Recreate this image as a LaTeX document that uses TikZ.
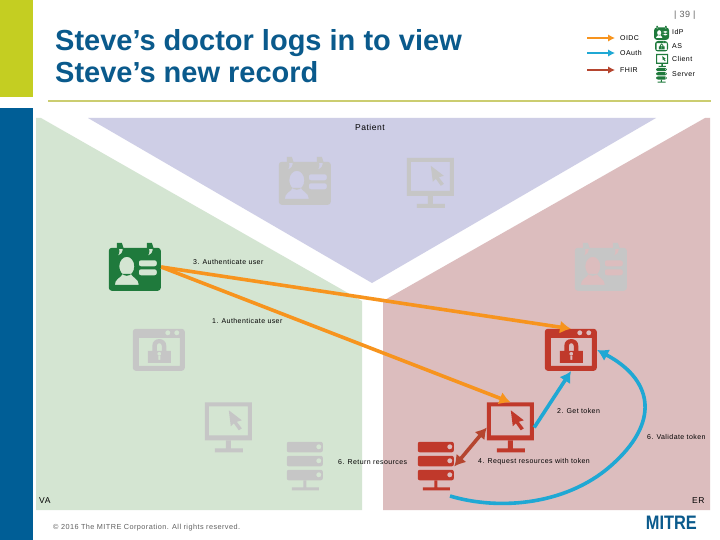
\documentclass[tikz,border=0pt]{standalone}
\usepackage{fontspec}
\setmainfont{Liberation Sans}
\newfontfamily\lblfont[LetterSpace=6]{Liberation Sans}
\usetikzlibrary{arrows.meta}
\definecolor{limebar}{HTML}{C4CE22}
\definecolor{bluebar}{HTML}{005E96}
\definecolor{rulecol}{HTML}{CBCD70}
\definecolor{titlecol}{HTML}{0A5A8C}
\definecolor{pgreen}{HTML}{D4E5D2}
\definecolor{ppurple}{HTML}{CECEE6}
\definecolor{ppink}{HTML}{DCBDBE}
\definecolor{icgreen}{HTML}{1F7A3C}
\definecolor{icred}{HTML}{C0392B}
\definecolor{icgray}{HTML}{C6C6C6}
\definecolor{orangeflow}{HTML}{F7941E}
\definecolor{blueflow}{HTML}{1FA8D4}
\definecolor{redflow}{HTML}{B5452F}
\definecolor{grayt}{HTML}{606060}
\tikzset{
  box/.style 2 args={inner sep=0pt,minimum width=#1pt,minimum height=#2pt},
  lbl/.style={anchor=west,inner sep=0pt,font=\lblfont\fontsize{7}{8}\selectfont,text=black},
  lgd/.style={anchor=west,inner sep=5pt,font=\lblfont\fontsize{7}{8}\selectfont,text=black},
  flow/.style={line width=3.6pt,-{Latex[length=11pt,width=13pt]}},
  lflow/.style={line width=2.4pt,-{Latex[length=7pt,width=7.5pt]}},
  badge/.pic={
    \fill[pic actions] (8,0) -- (13,0) -- (15,6) -- (8,6) -- cycle (38,0) -- (43,0) -- (45,6) -- (38,6) -- cycle;
    \fill[pic actions,even odd rule] [rounded corners=3pt] (0,5) rectangle (52,48) [sharp corners]
      (14,5) .. controls (14,10) and (12,12) .. (9,13) .. controls (11,10) and (11,7) .. (10,5) -- cycle
      (44,5) .. controls (44,10) and (42,12) .. (39,13) .. controls (41,10) and (41,7) .. (40,5) -- cycle
      (18,23.5) ellipse [x radius=7.5,y radius=9.5]
      (6,42) .. controls (6,36) and (12,35) .. (14,31) -- (22,31) .. controls (24,35) and (30,36) .. (30,42) -- cycle
      [rounded corners=2pt] (30,17.5) rectangle (48,23.5) (30,26.5) rectangle (48,32.5);
  },
  monitor/.pic={
    \fill[pic actions,even odd rule] (0,0) rectangle (47,38) (4,4) rectangle (43,33)
      (24,8) -- (37,18) -- (32,19.5) -- (37,26) -- (34,28) -- (29,21) -- (26,24) -- cycle;
    \fill[pic actions] (21,38) rectangle (26,46) (10,46) rectangle (38,50);
  },
  lockbox/.pic={
    \fill[pic actions,even odd rule] [rounded corners=3pt] (0,0) rectangle (52,42) [sharp corners]
      (6,9) rectangle (47,37)
      (35,4) circle [radius=2.6] (44,4) circle [radius=2.6]
      (15,22) rectangle (38,34)
      (19.5,22) -- (19.5,17) .. controls (19.5,8) and (33.5,8) .. (33.5,17) -- (33.5,22) -- (29,22) -- (29,17) .. controls (29,13.5) and (24,13.5) .. (24,17) -- (24,22) -- cycle
      (26.5,25) circle [radius=2] (25.5,27) rectangle (27.5,31);
  },
  serverstack/.pic={
    \fill[pic actions,even odd rule] [rounded corners=2pt] (0,0) rectangle (36,10.5) (0,14) rectangle (36,24.5) (0,28) rectangle (36,38.5) [sharp corners]
      (32,5) circle [radius=2.6] (32,19) circle [radius=2.6] (32,33) circle [radius=2.6];
    \fill[pic actions] (16.5,38.5) rectangle (19.5,47) (5,45.5) rectangle (32,48.5);
  },
}
\begin{document}
\begin{tikzpicture}[x=1pt,y=-1pt]
\useasboundingbox (0,0) rectangle (720,540);
\fill[white] (0,0) rectangle (720,540);
% side bars and rule
\fill[limebar] (0,0) rectangle (33,97);
\fill[bluebar] (0,108) rectangle (33,540);
\fill[rulecol] (48,100.5) rectangle (711,102.5);
% panels
\fill[pgreen] (36,118) -- (41,118) -- (362,301) -- (362,510) -- (36,510) -- cycle;
\fill[ppurple] (88,118) -- (656,118) -- (372,283) -- cycle;
\fill[ppink] (383,301) -- (705,118) -- (710,118) -- (710,510) -- (383,510) -- cycle;
% title
\node[anchor=north west,inner sep=0pt,align=left,text=titlecol,font=\bfseries\fontsize{29}{32}\selectfont] (title) at (55,29) {Steve’s doctor logs in to view\\Steve’s new record};
\node[anchor=west,inner sep=0pt,text=grayt,font=\lblfont\fontsize{9}{10}\selectfont] (pageno) at (674,15) {| 39 |};
% icon boxes
\node[box={52}{48}] (pbadge) at (305,181) {};
\node[box={47}{50}] (pclient) at (430.5,183) {};
\node[box={52}{48}] (dr) at (135,267) {};
\node[box={52}{48}] (ebadge) at (601,267) {};
\node[box={52}{42}] (vlock) at (159,350) {};
\node[box={52}{42}] (as) at (571,350) {};
\node[box={47}{50}] (vclient) at (228.5,427.5) {};
\node[box={47}{50}] (client) at (510.5,427.5) {};
\node[box={36}{49}] (vserver) at (305,466.5) {};
\node[box={36}{49}] (server) at (436,466.5) {};
% icons
\pic[fill=icgray] at (pbadge.north west) {badge};
\pic[fill=icgray] at (pclient.north west) {monitor};
\pic[fill=icgreen] at (dr.north west) {badge};
\pic[fill=icgray] at (ebadge.north west) {badge};
\pic[fill=icgray] at (vlock.north west) {lockbox};
\pic[fill=icred] at (as.north west) {lockbox};
\pic[fill=icgray] at (vclient.north west) {monitor};
\pic[fill=icred] at (client.north west) {monitor};
\pic[fill=icgray] at (vserver.north west) {serverstack};
\pic[fill=icred] at (server.north west) {serverstack};
% legend icons
\pic[fill=icgreen,scale=.29] at (654,26) {badge};
\pic[fill=icgreen,scale=.25] at (655,41) {lockbox};
\pic[fill=icgreen,scale=.26] at (656,54) {monitor};
\pic[fill=icgreen,scale=.3] at (656,68) {serverstack};
% labels
\node[anchor=west,inner sep=0pt,font=\lblfont\fontsize{8.5}{10}\selectfont] (patient) at (355,127) {Patient};
\node[anchor=west,inner sep=0pt,font=\lblfont\fontsize{8.5}{10}\selectfont] (va) at (39,501) {VA};
\node[anchor=west,inner sep=0pt,font=\lblfont\fontsize{8.5}{10}\selectfont] (er) at (692,501) {ER};
\node[lbl] (l3) at (193,262) {3. Authenticate user};
\node[lbl] (l1) at (212,321) {1. Authenticate user};
\node[lbl] (l2) at (557,411) {2. Get token};
\node[lbl] (l6v) at (647,437) {6. Validate token};
\node[lbl] (l4) at (478,462) {4. Request resources with token};
\node[lbl] (l6r) at (338,462) {6. Return resources};
\node[anchor=west,inner sep=0pt,text=grayt,font=\lblfont\fontsize{7.3}{8}\selectfont] (copy) at (53,528) {© 2016 The MITRE Corporation. All rights reserved.};
\node[anchor=east,inner sep=0pt,text=titlecol,font=\bfseries\fontsize{19.5}{20}\selectfont,xscale=.84] (mitre) at (697,523) {MITRE};
% legend
\node[lgd] (oidc) at (615,38) {OIDC};
\node[lgd] (oauth) at (615,53) {OAuth};
\node[lgd] (fhir) at (615,70) {FHIR};
\coordinate (a1) at (587,38);
\coordinate (a2) at (587,53);
\coordinate (a3) at (587,70);
\draw[lflow,orangeflow] (a1) -- (oidc.west);
\draw[lflow,blueflow] (a2) -- (oauth.west);
\draw[lflow,redflow] (a3) -- (fhir.west);
\node[lbl] (tidp) at (672,32) {IdP};
\node[lbl] (tas) at (672,46) {AS};
\node[lbl] (tcl) at (672,59) {Client};
\node[lbl] (tsv) at (672,74) {Server};
% connectors
\draw[flow,orangeflow] (dr.east) -- (as.north);
\draw[flow,orangeflow] (dr.east) -- (client.north);
\draw[flow,blueflow] (client.east) -- (as.south);
\draw[line width=3.6pt,redflow,{Latex[length=11pt,width=13pt]}-{Latex[length=11pt,width=13pt]}] (server.east) -- (client.west);
\coordinate (vstart) at (450,496);
\draw[flow,blueflow] (vstart) .. controls (500,511) and (570,505) .. (615,462) .. controls (662,418) and (650,378) .. (as.east);
\end{tikzpicture}
\end{document}
